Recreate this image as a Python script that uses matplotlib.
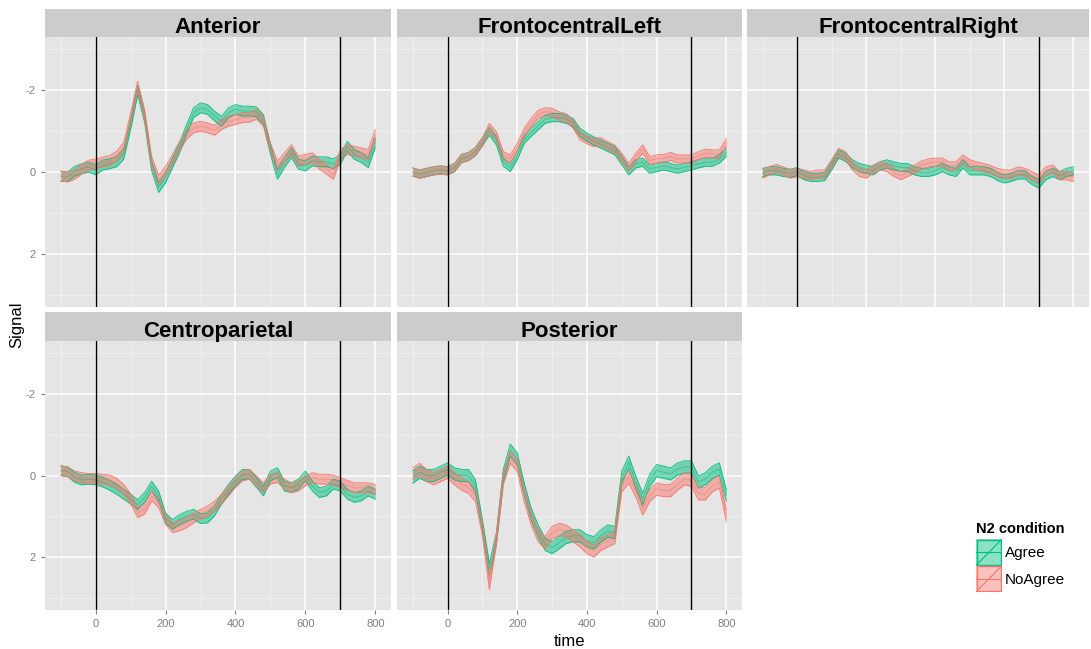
import numpy as np
import matplotlib
matplotlib.use('Agg')
import matplotlib.pyplot as plt
from matplotlib.patches import Rectangle

plt.rcParams['font.family'] = ['Liberation Sans', 'DejaVu Sans']
plt.rcParams['axes.unicode_minus'] = False

# time grid (ms) and ERP means
time = np.arange(-100, 801, 20)

anterior_agree = [0.1, 0.12, -0.02, -0.08, -0.12, -0.05, -0.17, -0.2, -0.25, -0.43,
                  -1.16, -2.0, -1.33, -0.15, 0.38, 0.14, -0.23, -0.59, -1.04, -1.45,
                  -1.57, -1.53, -1.37, -1.24, -1.45, -1.53, -1.49, -1.49, -1.47, -1.28,
                  -0.55, 0.06, -0.23, -0.47, -0.19, -0.15, -0.27, -0.25, -0.25, -0.2,
                  -0.31, -0.63, -0.43, -0.35, -0.23, -0.72]
anterior_noagree = [0.1, 0.12, 0.06, -0.07, -0.17, -0.2, -0.24, -0.28, -0.39, -0.6,
                    -1.33, -2.1, -1.4, -0.27, 0.2, -0.02, -0.31, -0.63, -0.92, -1.08,
                    -1.12, -1.08, -1.02, -1.16, -1.24, -1.28, -1.33, -1.34, -1.41, -1.24,
                    -0.59, -0.15, -0.35, -0.55, -0.27, -0.31, -0.35, -0.19, -0.07, 0.06,
                    -0.43, -0.55, -0.51, -0.47, -0.43, -0.92]

fcl_agree = [0.0, 0.05, 0.01, -0.03, -0.05, -0.03, -0.11, -0.33, -0.38, -0.5,
             -0.74, -1.0, -0.76, -0.24, -0.11, -0.4, -0.8, -0.97, -1.13, -1.29,
             -1.33, -1.33, -1.29, -1.21, -0.97, -0.85, -0.76, -0.68, -0.6, -0.52,
             -0.28, -0.03, -0.2, -0.24, -0.07, -0.11, -0.15, -0.11, -0.07, -0.11,
             -0.15, -0.2, -0.24, -0.24, -0.32, -0.48]
fcl_noagree = [0.0, 0.05, 0.01, -0.03, -0.05, -0.03, -0.11, -0.33, -0.38, -0.5,
               -0.74, -1.09, -0.89, -0.4, -0.32, -0.6, -0.97, -1.21, -1.41, -1.47,
               -1.46, -1.37, -1.33, -1.17, -0.89, -0.79, -0.72, -0.74, -0.64, -0.56,
               -0.36, -0.11, -0.36, -0.56, -0.28, -0.32, -0.33, -0.38, -0.32, -0.32,
               -0.32, -0.4, -0.46, -0.44, -0.44, -0.72]

fcr_agree = [0.01, -0.03, -0.03, 0.01, 0.03, -0.01, 0.09, 0.13, 0.13, 0.11,
             -0.15, -0.44, -0.36, -0.2, -0.11, -0.07, -0.03, -0.15, -0.2, -0.15,
             -0.11, -0.11, -0.03, 0.01, 0.01, -0.03, -0.11, -0.03, 0.01, -0.2,
             -0.03, -0.03, -0.03, 0.01, 0.11, 0.17, 0.13, 0.07, 0.07, 0.21,
             0.29, 0.09, 0.01, 0.09, 0.01, -0.03]
fcr_noagree = [0.05, -0.03, -0.09, -0.03, 0.05, 0.01, 0.05, 0.09, 0.05, 0.05,
               -0.2, -0.48, -0.4, -0.15, 0.01, 0.05, -0.07, -0.15, -0.11, 0.01,
               0.09, 0.01, -0.07, -0.17, -0.22, -0.24, -0.24, -0.15, -0.15, -0.32,
               -0.2, -0.15, -0.11, -0.06, 0.01, 0.05, 0.05, -0.03, 0.01, 0.09,
               0.17, -0.03, -0.07, 0.09, 0.09, 0.13]

cp_agree = [-0.12, -0.09, 0.05, 0.11, 0.09, 0.11, 0.16, 0.24, 0.34, 0.46,
            0.58, 0.71, 0.54, 0.26, 0.5, 1.04, 1.2, 1.08, 1.0, 0.95,
            1.06, 1.04, 0.87, 0.58, 0.34, 0.13, -0.03, -0.03, 0.17, 0.38,
            0.01, -0.07, 0.26, 0.3, 0.21, 0.01, 0.26, 0.42, 0.38, 0.21,
            0.26, 0.46, 0.54, 0.5, 0.38, 0.46]
cp_noagree = [-0.12, -0.09, 0.01, 0.05, 0.07, 0.07, 0.09, 0.11, 0.19, 0.34,
              0.57, 0.91, 0.83, 0.5, 0.67, 1.08, 1.28, 1.24, 1.16, 1.04,
              0.95, 0.87, 0.75, 0.58, 0.38, 0.17, 0.01, -0.03, 0.13, 0.3,
              0.09, 0.05, 0.21, 0.3, 0.26, 0.13, 0.05, 0.09, 0.09, 0.11,
              0.17, 0.24, 0.3, 0.3, 0.3, 0.34]

post_agree = [0.04, -0.08, 0.0, 0.0, -0.08, -0.16, -0.04, 0.0, 0.0, 0.25,
              1.23, 2.3, 1.56, 0.0, -0.62, -0.41, 0.33, 0.95, 1.36, 1.69,
              1.77, 1.65, 1.52, 1.48, 1.48, 1.6, 1.65, 1.48, 1.36, 1.4,
              0.04, -0.33, 0.16, 0.58, 0.12, -0.12, -0.08, -0.04, -0.16, -0.21,
              -0.21, 0.16, 0.08, -0.08, -0.16, 0.49]
post_noagree = [-0.04, -0.15, 0.0, 0.08, 0.0, -0.08, 0.08, 0.21, 0.29, 0.49,
                1.32, 2.65, 1.56, 0.08, -0.45, -0.25, 0.49, 1.07, 1.48, 1.65,
                1.4, 1.32, 1.36, 1.48, 1.6, 1.77, 1.85, 1.69, 1.6, 1.52,
                0.25, 0.04, 0.37, 0.82, 0.49, 0.33, 0.37, 0.37, 0.21, 0.08,
                0.12, 0.45, 0.45, 0.25, 0.16, 0.99]

# ribbon half widths (standard error)
se = {'Anterior': 0.12, 'FrontocentralLeft': 0.1, 'FrontocentralRight': 0.1,
      'Centroparietal': 0.12, 'Posterior': 0.15}

regions = ['Anterior', 'FrontocentralLeft', 'FrontocentralRight', 'Centroparietal', 'Posterior']
agree = [anterior_agree, fcl_agree, fcr_agree, cp_agree, post_agree]
noagree = [anterior_noagree, fcl_noagree, fcr_noagree, cp_noagree, post_noagree]

conditions = ['Agree', 'NoAgree']
colors = ['#00BF7D', '#F8766D']

W, H = 1091, 649
fig = plt.figure(figsize=(W / 100, H / 100), dpi=100)

cols = [(45, 391), (397, 742), (747, 1089)]
rows = [(9, 37, 307), (312, 341, 610)]  # strip top, panel top, panel bottom

for idx, name in enumerate(regions):
    r, c = divmod(idx, 3)
    x0, x1 = cols[c]
    st, pt, pb = rows[r]
    ax = fig.add_axes([x0 / W, 1 - pb / H, (x1 - x0) / W, (pb - pt) / H])
    sax = fig.add_axes([x0 / W, 1 - pt / H, (x1 - x0) / W, (pt - st) / H])

    ax.set_facecolor('#E5E5E5')
    for sp in ax.spines.values():
        sp.set_visible(False)
    ax.set_axisbelow(True)
    ax.set_xlim(-145, 845)
    ax.set_ylim(3.3, -3.3)
    ax.set_xticks([0, 200, 400, 600, 800])
    ax.set_xticks([-100, 100, 300, 500, 700], minor=True)
    ax.set_yticks([-2, 0, 2])
    ax.set_yticks([-3, -1, 1, 3], minor=True)
    ax.grid(which='major', color='white', lw=1.1)
    ax.grid(which='minor', color='#F2F2F2', lw=0.6)
    ax.tick_params(which='major', length=3, color='#7F7F7F', labelcolor='#7F7F7F',
                   labelsize=8, width=0.8)
    ax.tick_params(which='minor', length=0)
    if r == 0:
        ax.tick_params(axis='x', which='major', length=0, labelbottom=False)
    if c != 0:
        ax.tick_params(axis='y', which='major', length=0, labelleft=False)

    series = [np.array(agree[idx]), np.array(noagree[idx])]
    for m, col in zip(series, colors):
        ax.fill_between(time, m - se[name], m + se[name], color=col, alpha=0.5, lw=0)
    for m, col in zip(series, colors):
        ax.plot(time, m - se[name], color=col, lw=0.6)
        ax.plot(time, m + se[name], color=col, lw=0.6)
        ax.plot(time, m, color=col, lw=0.7, alpha=0.5)

    ax.axvline(0, color='black', lw=1)
    ax.axvline(700, color='black', lw=1)

    sax.set_facecolor('#CCCCCC')
    sax.set_xticks([])
    sax.set_yticks([])
    for sp in sax.spines.values():
        sp.set_visible(False)
    sax.text(0.5, 0.42, name, ha='center', va='center_baseline', fontsize=16,
             fontweight='bold', transform=sax.transAxes)

fig.text(17 / W, 1 - 325 / H, 'Signal', rotation=90, ha='center', va='center', fontsize=12)
fig.text(569 / W, 1 - 641 / H, 'time', ha='center', va='center', fontsize=12)

# legend
fig.text(976 / W, 1 - 529 / H, 'N2 condition', ha='left', va='center',
         fontsize=10.5, fontweight='bold')
lax = fig.add_axes([976 / W, 1 - 592 / H, 26 / W, 53 / H])
lax.set_xlim(0, 1)
lax.set_ylim(0, 2)
lax.axis('off')
for k, (lab, col) in enumerate(zip(conditions, colors)):
    y0 = 1 - k
    lax.add_patch(Rectangle((0, y0), 1, 1, facecolor=col, alpha=0.45, edgecolor='none'))
    lax.add_patch(Rectangle((0.02, y0 + 0.02), 0.96, 0.96, facecolor='none', edgecolor=col, lw=1))
    lax.plot([0, 1], [y0 + 0.5, y0 + 0.5], color=col, lw=0.8)
    lax.plot([0, 1], [y0, y0 + 1], color=col, lw=0.8)
    fig.text(1005 / W, 1 - (553 + 27 * k) / H, lab, ha='left', va='center', fontsize=11)

fig.savefig('out.png', dpi=100)
